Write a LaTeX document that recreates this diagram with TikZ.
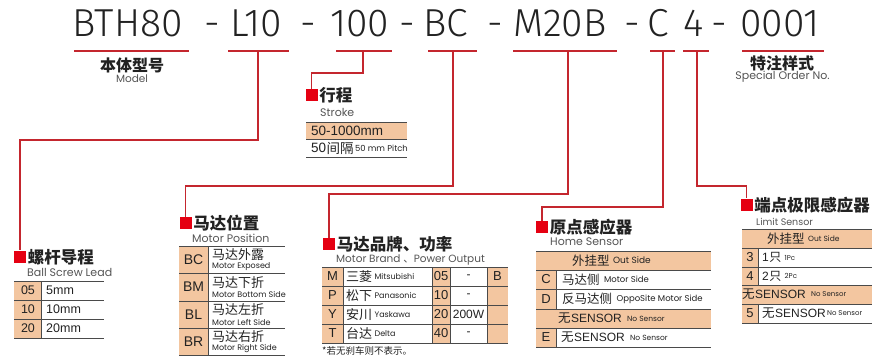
\documentclass[tikz,border=0pt]{standalone}
\usepackage{fontspec}
\setmainfont{Liberation Sans}
\newfontfamily\cjk{Noto Sans CJK SC}
\newfontfamily\pop{Poppins}
\newfontfamily\lightf{Fira Sans Light}
\definecolor{lred}{HTML}{C4262E}
\definecolor{sqred}{HTML}{E50012}
\definecolor{org}{HTML}{F3C6A0}
\definecolor{tgray}{HTML}{4A4A4A}
\definecolor{dgray}{HTML}{555555}
\definecolor{ink}{HTML}{222222}
\newcommand\fsz[1]{\fontsize{#1}{#1}\selectfont}
\begin{document}
\begin{tikzpicture}[x=1pt,y=-1pt,
  rl/.style={draw=lred,line width=1.2pt},
  sq/.style={fill=sqred,minimum size=12pt,inner sep=0pt},
  tl/.style={draw=tgray,line width=0.9pt},
  big/.style={anchor=base west,inner sep=0pt,font=\lightf\fsz{39},text=ink},
  ttl/.style={anchor=west,inner sep=0pt,font=\cjk\bfseries\fsz{16.5},text=ink},
  sub/.style={anchor=west,inner sep=0pt,font=\pop\fsz{11},text=dgray},
  cc/.style={anchor=center,inner sep=0pt,font=\fsz{13},text=ink},
  cl/.style={anchor=west,inner sep=0pt,font=\fsz{12.5},text=ink},
  zh/.style={anchor=west,inner sep=0pt,font=\cjk\fsz{12.5},text=ink},
  sm/.style={anchor=west,inner sep=0pt,font=\pop\fsz{7},text=ink}]
\clip (0,0) rectangle (872,356);
\fill[white] (0,0) rectangle (872,356);

% ---------- code line ----------
\node[big] (t1) at (72,36) {BTH80};
\node[big] (d1) at (204,36) {-};
\node[big] (t2) at (230,36) {L10};
\node[big] (d2) at (300,36) {-};
\node[big] (t3) at (330,36) {100};
\node[big] (d3) at (399,36) {-};
\node[big] (t4) at (423,36) {BC};
\node[big] (d4) at (487,36) {-};
\node[big] (t5) at (513,36) {M20B};
\node[big] (d5) at (624,36) {-};
\node[big] (t6) at (647,36) {C};
\node[big] (t7) at (683,36) {4};
\node[big] (d6) at (711,36) {-};
\node[big] (t8) at (740,36) {0001};

% underlines
\draw[rl] (74,51) -- (189,51);
\draw[rl] (228,51) -- (289,51);
\draw[rl] (336,51) -- (392,51);
\draw[rl] (428,51) -- (477,51);
\draw[rl] (513,51) -- (617,51);
\draw[rl] (650,51) -- (675,51);
\draw[rl] (683,51) -- (709,51);
\draw[rl] (742,51) -- (824,51);
\coordinate (uL) at (258,51);
\coordinate (uS) at (363,51);
\coordinate (uP) at (453,51);
\coordinate (uM) at (568,51);
\coordinate (uH) at (663,51);
\coordinate (uT) at (697,51);

% model / special order
\node[anchor=center,inner sep=0pt,font=\cjk\bfseries\fsz{16},text=ink] (mz) at (132,65) {本体型号};
\node[anchor=center,inner sep=0pt,font=\pop\fsz{10.5},text=dgray] (me) at (132,79) {Model};
\node[anchor=center,inner sep=0pt,font=\cjk\bfseries\fsz{16},text=ink] (sz) at (782,63) {特注样式};
\node[anchor=center,inner sep=0pt,font=\pop\fsz{11},text=dgray] (se) at (782.5,77) {Special Order No.};

% ---------- squares & titles ----------
\node[sq] (sqA) at (20,256.5) {};
\node[ttl] (hA) at ([xshift=1.5pt,yshift=-0.5pt]sqA.east) {螺杆导程};
\node[sub] at (27,272) {Ball Screw Lead};

\node[sq] (sqB) at (311.5,95) {};
\node[ttl] (hB) at ([xshift=1.5pt,yshift=-0.5pt]sqB.east) {行程};
\node[sub] at (320,112) {Stroke};

\node[sq] (sqC) at (185.5,223) {};
\node[ttl] (hC) at ([xshift=1.5pt,yshift=-0.5pt]sqC.east) {马达位置};
\node[sub] at (192,238) {Motor Position};

\node[sq] (sqD) at (329,244) {};
\node[ttl] (hD) at ([xshift=1.5pt,yshift=-0.5pt]sqD.east) {马达品牌、功率};
\node[sub,font=\pop\fsz{10.5}] at (336,259.5) {Motor Brand {\cjk 、}Power Output};

\node[sq] (sqE) at (542,227) {};
\node[ttl] (hE) at ([xshift=1.5pt,yshift=-0.5pt]sqE.east) {原点感应器};
\node[sub] at (550,242) {Home Sensor};

\node[sq] (sqF) at (746.5,204.5) {};
\node[ttl] (hF) at ([xshift=1.5pt,yshift=-0.5pt]sqF.east) {端点极限感应器};
\node[sub,font=\pop\fsz{9.5}] at (756,222) {Limit Sensor};

% ---------- connectors ----------
\draw[rl] (uL) -- (258,140) -| (sqA.north);
\draw[rl] (uS) -- (363,73) -| (sqB.north);
\draw[rl] (uP) -- (453,186) -| (sqC.north);
\draw[rl] (uM) -- (568,194) -| (sqD.north);
\draw[rl] (uH) -- (663,207) -| (sqE.north);
\draw[rl] (uT) -- (697,186) -| (sqF.north);

% ---------- stroke table ----------
\fill[org] (306,122) rectangle (407,139);
\foreach \y in {122,139,157} \draw[tl] (306,\y) -- (407,\y);
\node[cl,font=\fsz{13.5}] at (311,130.5) {50-1000mm};
\node[cl,font=\fsz{13.5}] (s50) at (311,148) {50};
\node[zh,font=\cjk\fsz{13.5}] (sjg) at (s50.east) {间隔};
\node[sm,font=\pop\fsz{8.4}] at ([xshift=1pt]sjg.east) {50 mm Pitch};

% ---------- ball screw lead table ----------
\fill[org] (14,281) rectangle (41,338);
\foreach \y in {281,300,319,338} \draw[tl] (14,\y) -- (104,\y);
\draw[tl] (41,281) -- (41,338);
\node[cc,font=\fsz{12.5}] at (28,290.5) {05};
\node[cl] at (46,290.5) {5mm};
\node[cc,font=\fsz{12.5}] at (28,309.5) {10};
\node[cl] at (46,309.5) {10mm};
\node[cc,font=\fsz{12.5}] at (28,328.5) {20};
\node[cl] at (46,328.5) {20mm};

% ---------- motor position table ----------
\fill[org] (179,246) rectangle (208,355);
\foreach \y in {246,273,301,328,355} \draw[tl] (179,\y) -- (285,\y);
\draw[tl] (208,246) -- (208,355);
\node[cc,font=\fsz{14}] at (193.5,259.5) {BC};
\node[zh,font=\cjk\fsz{13}] at (212,255) {马达外露};
\node[sm,font=\pop\fsz{8}] at (212,267) {Motor Exposed};
\node[cc,font=\fsz{14}] at (193.5,287) {BM};
\node[zh,font=\cjk\fsz{13}] at (212,282.5) {马达下折};
\node[sm,font=\pop\fsz{8}] at (212,294.5) {Motor Bottom Side};
\node[cc,font=\fsz{14}] at (193.5,314.5) {BL};
\node[zh,font=\cjk\fsz{13}] at (212,310) {马达左折};
\node[sm,font=\pop\fsz{8}] at (212,322) {Motor Left Side};
\node[cc,font=\fsz{14}] at (193.5,341.5) {BR};
\node[zh,font=\cjk\fsz{13}] at (212,337) {马达右折};
\node[sm,font=\pop\fsz{8}] at (212,349) {Motor Right Side};

% ---------- motor brand table ----------
\fill[org] (322,267) rectangle (343,343);
\fill[org] (432,267) rectangle (450,343);
\fill[org] (487,267) rectangle (508,343);
\foreach \y in {267,286,305,324,343} \draw[tl] (322,\y) -- (508,\y);
\foreach \x in {343,432,450,487} \draw[tl] (\x,267) -- (\x,343);
\foreach \y/\c/\z/\e/\n/\w in {276.5/M/三菱/Mitsubishi/05/-,295.5/P/松下/Panasonic/10/-,314.5/Y/安川/Yaskawa/20/200W,333.5/T/台达/Delta/40/-}{
  \node[cc] at (332.5,\y) {\c};
  \node[zh,font=\cjk\fsz{13}] (bz) at (346,\y) {\z};
  \node[sm,font=\pop\fsz{8}] at ([xshift=2pt]bz.east) {\e};
  \node[cc] at (441,\y) {\n};
  \node[cc,font=\fsz{12}] at (468.5,\y) {\w};
}
\node[cc] at (497.5,276.5) {B};
\node[anchor=west,inner sep=0pt,font=\cjk\fsz{9.5},text=ink] at (322,350.5) {*若无刹车则不表示。};

% ---------- home sensor table ----------
\fill[org] (536,251) rectangle (711,270);
\fill[org] (536,270) rectangle (556,309);
\fill[org] (536,309) rectangle (711,328);
\fill[org] (536,328) rectangle (556,347);
\foreach \y in {251,270,289,309,328,347} \draw[tl] (536,\y) -- (711,\y);
\draw[tl] (556,270) -- (556,309);
\draw[tl] (556,328) -- (556,347);
\node[zh,font=\cjk\fsz{12.5}] (ho) at (572,260.5) {外挂型};
\node[sm,font=\pop\fsz{9}] at ([xshift=3pt]ho.east) {Out Side};
\node[cc] at (546,279.5) {C};
\node[zh,font=\cjk\fsz{12.5}] (hc) at (562,279.5) {马达侧};
\node[sm,font=\pop\fsz{8.5}] at ([xshift=4pt]hc.east) {Motor Side};
\node[cc] at (546,299) {D};
\node[zh,font=\cjk\fsz{12.5}] (hd) at (562,299) {反马达侧};
\node[sm,font=\pop\fsz{8.5}] at ([xshift=4pt]hd.east) {OppoSite Motor Side};
\node[zh,font=\cjk\fsz{12.5}] (hn) at (558,318.5) {无};
\node[cl,font=\fsz{12}] (hns) at (hn.east) {SENSOR};
\node[sm,font=\pop\fsz{7.5}] at ([xshift=5pt]hns.east) {No Sensor};
\node[cc] at (546,337.5) {E};
\node[zh,font=\cjk\fsz{12.5}] (he) at (561,337.5) {无};
\node[cl,font=\fsz{12}] (hes) at (he.east) {SENSOR};
\node[sm,font=\pop\fsz{7.5}] at ([xshift=5pt]hes.east) {No Sensor};

% ---------- limit sensor table ----------
\fill[org] (742,229) rectangle (880,248);
\fill[org] (742,248) rectangle (758,285);
\fill[org] (742,285) rectangle (880,304);
\fill[org] (742,304) rectangle (758,323);
\foreach \y in {229,248,267,285,304,323} \draw[tl] (742,\y) -- (880,\y);
\draw[tl] (758,248) -- (758,285);
\draw[tl] (758,304) -- (758,323);
\node[zh,font=\cjk\fsz{12.5}] (lo) at (767,238.5) {外挂型};
\node[sm,font=\pop\fsz{7.5}] at ([xshift=3pt]lo.east) {Out Side};
\node[cc] at (750,257.5) {3};
\node[cl,font=\fsz{12}] (l1) at (762,257.5) {1};
\node[zh,font=\cjk\fsz{12}] (l1z) at (l1.east) {只};
\node[sm,font=\pop\fsz{7}] at ([xshift=3pt]l1z.east) {1Pc};
\node[cc] at (750,276) {4};
\node[cl,font=\fsz{12}] (l2) at (762,276) {2};
\node[zh,font=\cjk\fsz{12}] (l2z) at (l2.east) {只};
\node[sm,font=\pop\fsz{7}] at ([xshift=3pt]l2z.east) {2Pc};
\node[zh,font=\cjk\fsz{12.5}] (ln) at (742,294.5) {无};
\node[cl,font=\fsz{12}] (lns) at (ln.east) {SENSOR};
\node[sm,font=\pop\fsz{7}] at ([xshift=5pt]lns.east) {No Sensor};
\node[cc] at (750,313.5) {5};
\node[zh,font=\cjk\fsz{12.5}] (le) at (762,313.5) {无};
\node[cl,font=\fsz{12}] (les) at (le.east) {SENSOR};
\node[sm,font=\pop\fsz{7}] at ([xshift=1pt]les.east) {No Sensor};
\end{tikzpicture}
\end{document}
